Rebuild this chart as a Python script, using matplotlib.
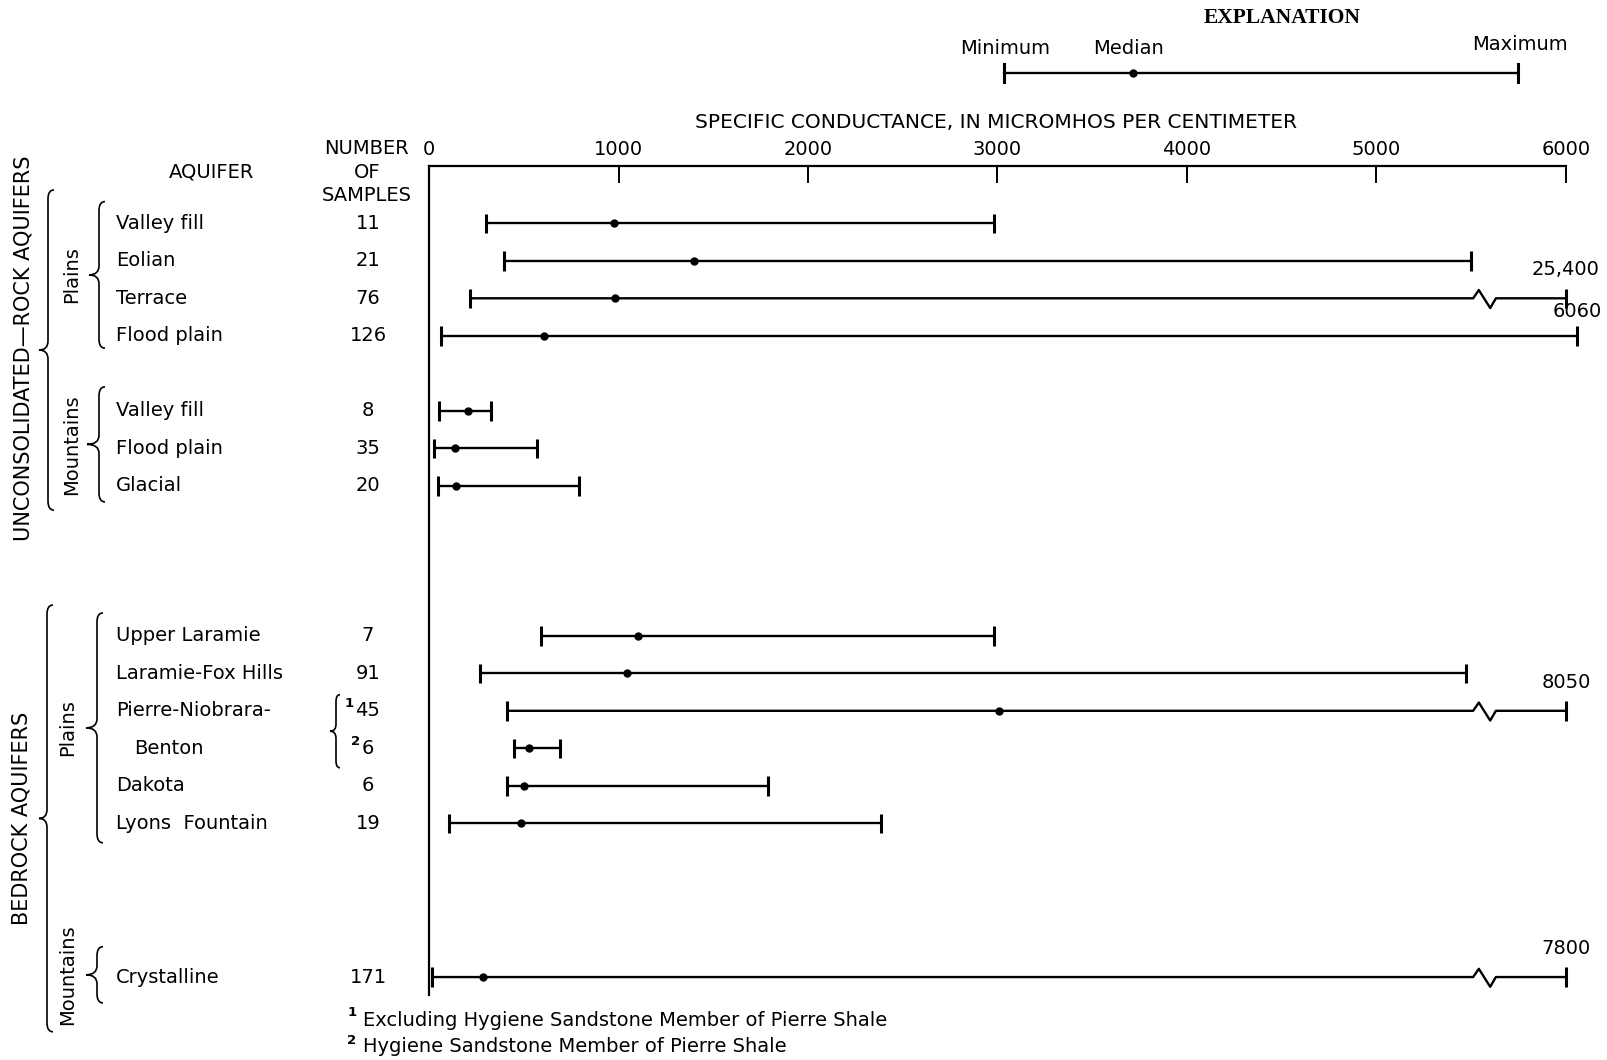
import matplotlib
matplotlib.use("Agg")
import matplotlib.pyplot as plt
from matplotlib.transforms import Affine2D
from matplotlib.path import Path
from matplotlib.patches import PathPatch
from matplotlib.lines import Line2D

# ---------------- data ----------------
aquifers = ["Valley fill", "Eolian", "Terrace", "Flood plain",
            "Valley fill", "Flood plain", "Glacial",
            "Upper Laramie", "Laramie-Fox Hills", "Pierre-Niobrara-", "Benton",
            "Dakota", "Lyons  Fountain", "Crystalline"]
samples = [11, 21, 76, 126, 8, 35, 20, 7, 91, 45, 6, 6, 19, 171]
sample_notes = ["", "", "", "", "", "", "", "", "", "1", "2", "", "", ""]
minimum = [300, 395, 215, 65, 55, 28, 45, 590, 270, 410, 450, 410, 105, 15]
median = [975, 1400, 980, 605, 205, 137, 142, 1105, 1045, 3010, 530, 500, 485, 283]
maximum = [2980, 5500, 25400, 6060, 325, 570, 790, 2980, 5470, 8050, 690, 1790, 2385, 7800]
x_ticks = [0, 1000, 2000, 3000, 4000, 5000, 6000]
footnotes = ["Excluding Hygiene Sandstone Member of Pierre Shale",
             "Hygiene Sandstone Member of Pierre Shale"]

# ---------------- layout ----------------
W, H = 1608, 1060
ROW0, ROWH = 223.3, 37.5          # pixel y of first row, row pitch
rows = [0, 1, 2, 3, 5, 6, 7, 11, 12, 13, 14, 15, 16, 20.1]
name_x = [116] * len(aquifers)
name_x[10] = 134                  # "Benton" is indented under its first line
COUNT_X = 368
SCALE_END = 6000
BREAK_X = [5510, 5540, 5600, 5630]
BREAK_DY = [0, -0.22, 0.26, 0]
CAP = 0.26
FS = 14

plt.rcParams["font.family"] = "DejaVu Sans"
fig = plt.figure(figsize=(W / 100, H / 100), dpi=100)
fig.patch.set_facecolor("white")
pix = Affine2D().scale(1 / W, -1 / H).translate(0, 1) + fig.transFigure


def row_px(r):
    return ROW0 + ROWH * r


def px_row(p):
    return (p - ROW0) / ROWH


ax_left, ax_right, ax_top, ax_bottom = 429, 1566, 166, 995
ax = fig.add_axes([ax_left / W, 1 - ax_bottom / H,
                   (ax_right - ax_left) / W, (ax_bottom - ax_top) / H])
ax.set_xlim(0, SCALE_END)
ax.set_ylim(px_row(ax_bottom), px_row(ax_top))
ax.set_facecolor("none")
for s in ("bottom", "right"):
    ax.spines[s].set_visible(False)
for s in ("top", "left"):
    ax.spines[s].set_linewidth(1.6)
ax.xaxis.tick_top()
ax.set_xticks(x_ticks)
ax.set_xticklabels([str(t) for t in x_ticks])
ax.tick_params(axis="x", direction="in", length=12, width=1.4,
               labelsize=FS, pad=5)
ax.set_yticks([])

lk = dict(color="black", lw=1.7, solid_capstyle="butt", clip_on=False)
ck = dict(color="black", lw=2.2, solid_capstyle="butt", clip_on=False)

for r, lo, md, hi in zip(rows, minimum, median, maximum):
    if hi > SCALE_END + 100:
        end = SCALE_END
        xs = [lo] + BREAK_X + [end]
        ys = [r] + [r + d for d in BREAK_DY] + [r]
        ax.plot(xs, ys, **lk)
        dy = 0.76
    else:
        end = hi
        ax.plot([lo, hi], [r, r], **lk)
        dy = 0.64
    ax.plot([lo, lo], [r - CAP, r + CAP], **ck)
    ax.plot([end, end], [r - CAP, r + CAP], **ck)
    ax.plot(md, r, "o", color="black", ms=5, clip_on=False)
    if hi > SCALE_END:
        lab = f"{hi:,}" if hi >= 10000 else str(hi)
        ax.text(end, r - dy, lab, ha="center", va="center", fontsize=FS)

# axis title
fig.text(996, 123, "SPECIFIC CONDUCTANCE, IN MICROMHOS PER CENTIMETER",
         transform=pix, ha="center", va="center", fontsize=14.5)

# column headings
fig.text(212, 172, "AQUIFER", transform=pix, ha="center", va="center", fontsize=FS)
fig.text(367, 172, "NUMBER\nOF\nSAMPLES", transform=pix, ha="center",
         va="center", fontsize=FS, linespacing=1.3)

# aquifer names and sample counts
for r, name, nx, n, note in zip(rows, aquifers, name_x, samples, sample_notes):
    y = row_px(r)
    fig.text(nx, y, name, transform=pix, ha="left", va="center", fontsize=FS)
    fig.text(COUNT_X, y, str(n), transform=pix, ha="center", va="center", fontsize=FS)
    if note:
        off = 12.4 * len(str(n)) / 2 + 1.5
        fig.text(COUNT_X - off, y - 7, note, transform=pix, ha="right",
                 va="center", fontsize=9.5, fontweight="bold")


def brace(x, top, bottom, tip, curl=6, r=9, mid=None):
    if mid is None:
        mid = (top + bottom) / 2
    verts = [(x + curl, top), (x, top), (x, top + r),
             (x, mid - r),
             (x, mid), (tip, mid),
             (x, mid), (x, mid + r),
             (x, bottom - r),
             (x, bottom), (x + curl, bottom)]
    codes = [Path.MOVETO, Path.CURVE3, Path.CURVE3,
             Path.LINETO,
             Path.CURVE3, Path.CURVE3,
             Path.CURVE3, Path.CURVE3,
             Path.LINETO,
             Path.CURVE3, Path.CURVE3]
    fig.add_artist(PathPatch(Path(verts, codes), transform=pix,
                             fill=False, lw=1.2, edgecolor="black"))


# group brackets and labels
brace(99, row_px(-0.58), row_px(3.33), 89)
brace(99, row_px(4.36), row_px(7.43), 87)
brace(48, row_px(-0.89), row_px(7.65), 39)
brace(97, row_px(10.39), row_px(16.52), 86)
brace(97, row_px(19.29), row_px(20.79), 86)
brace(47, row_px(10.18), row_px(21.56), 39)
brace(336, row_px(12.57), row_px(14.52), 330, curl=4, r=7)

fig.text(72, row_px(1.38), "Plains", transform=pix, rotation=90,
         ha="center", va="center", fontsize=FS)
fig.text(72, row_px(5.9), "Mountains", transform=pix, rotation=90,
         ha="center", va="center", fontsize=FS)
fig.text(68, row_px(13.46), "Plains", transform=pix, rotation=90,
         ha="center", va="center", fontsize=FS)
fig.text(68, row_px(20.04), "Mountains", transform=pix, rotation=90,
         ha="center", va="center", fontsize=FS)
fig.text(24, 348, "UNCONSOLIDATED\u2014ROCK AQUIFERS", transform=pix,
         rotation=90, ha="center", va="center", fontsize=15)
fig.text(22, 818, "BEDROCK AQUIFERS", transform=pix, rotation=90,
         ha="center", va="center", fontsize=15)

# footnotes
for i, (fy, txt) in enumerate(zip([1020, 1047], footnotes), start=1):
    fig.text(352, fy - 7, str(i), transform=pix, ha="center", va="center",
             fontsize=9.5, fontweight="bold")
    fig.text(363, fy, txt, transform=pix, ha="left", va="center", fontsize=FS)

# explanation key
fig.text(1282, 18, "EXPLANATION", transform=pix, ha="center", va="center",
         fontsize=15.5, fontweight="bold", family="Liberation Serif")
fig.text(1005, 49, "Minimum", transform=pix, ha="center", va="center", fontsize=FS)
fig.text(1129, 48, "Median", transform=pix, ha="center", va="center", fontsize=FS)
fig.text(1520, 45, "Maximum", transform=pix, ha="center", va="center", fontsize=FS)
ky = 73
fig.add_artist(Line2D([1004, 1518], [ky, ky], transform=pix, color="black", lw=1.7))
fig.add_artist(Line2D([1004, 1004], [ky - 9, ky + 9], transform=pix, color="black", lw=2.2))
fig.add_artist(Line2D([1518, 1518], [ky - 9, ky + 9], transform=pix, color="black", lw=2.2))
fig.add_artist(Line2D([1133], [ky], transform=pix, marker="o", ms=5, color="black"))

fig.savefig("out.png", dpi=100, facecolor="white")
